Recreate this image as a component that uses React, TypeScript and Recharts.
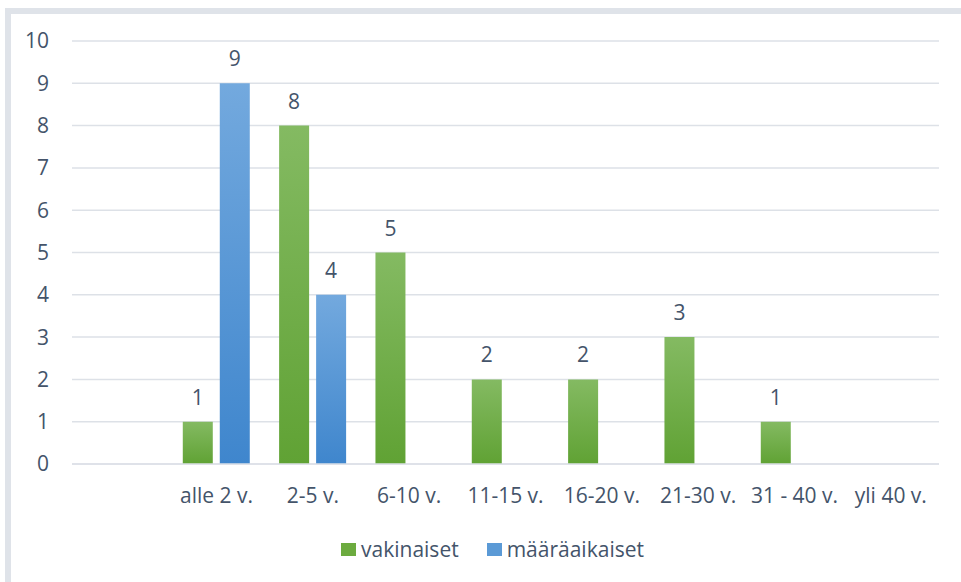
import React from "react";
import { BarChart, Bar, XAxis, YAxis, CartesianGrid, Legend, LabelList } from "recharts";

const categories = ["", "alle 2 v.", "2-5 v.", "6-10 v.", "11-15 v.", "16-20 v.", "21-30 v.", "31 - 40 v.", "yli 40 v."];
const vakinaiset = [null, 1, 8, 5, 2, 2, 3, 1, null];
const maaraaikaiset = [null, 9, 4, null, null, null, null, null, null];
const yTicks = [0, 1, 2, 3, 4, 5, 6, 7, 8, 9, 10];
const seriesNames = ["vakinaiset", "määräaikaiset"];
const legendColors = ["#6cab3f", "#5b9ad6"];

const chartData = categories.map((name, i) => ({
  name,
  vakinaiset: vakinaiset[i],
  määräaikaiset: maaraaikaiset[i],
}));

const TEXT = "#44546a";
const GRID = "#dde1e7";

// fixed order, gradients can't be used as css backgrounds
const LegendContent = () => (
  <div style={{ display: "flex", justifyContent: "center", alignItems: "center", paddingLeft: 24 }}>
    {seriesNames.map((s, i) => (
      <div key={s} style={{ display: "flex", alignItems: "center", marginLeft: i > 0 ? 28 : 0 }}>
        <span style={{ width: 15, height: 13, background: legendColors[i], display: "inline-block", marginRight: 5 }} />
        <span style={{ color: TEXT, fontSize: 21, lineHeight: "24px" }}>{s}</span>
      </div>
    ))}
  </div>
);

const fmt = (v: any) => (v == null ? "" : v);

export default function App() {
  return (
    <div style={{ position: "absolute", left: 0, top: 0, width: 961, height: 582, overflow: "hidden", background: "#fff", fontFamily: "'Open Sans', sans-serif" }}>
      <div style={{ position: "absolute", left: 5, top: 8, width: 1000, height: 600, borderLeft: "6px solid #dfe3e9", borderTop: "6px solid #dfe3e9" }} />
      <div style={{ position: "absolute", left: 0, top: 0 }}>
        <BarChart
          width={961}
          height={582}
          data={chartData}
          margin={{ top: 41, right: 22, left: 0, bottom: 0 }}
          barCategoryGap="15%"
          barGap={7}
        >
          <defs>
            <linearGradient id="gGreen" x1="0" y1="0" x2="0" y2="1">
              <stop offset="0%" stopColor="#84ba62" />
              <stop offset="100%" stopColor="#60a234" />
            </linearGradient>
            <linearGradient id="gBlue" x1="0" y1="0" x2="0" y2="1">
              <stop offset="0%" stopColor="#73a9de" />
              <stop offset="100%" stopColor="#3f86cd" />
            </linearGradient>
          </defs>
          <CartesianGrid horizontal vertical={false} stroke={GRID} strokeWidth={1.5} />
          <XAxis
            dataKey="name"
            axisLine={{ stroke: GRID, strokeWidth: 1.5 }}
            tickLine={false}
            tickSize={0}
            tickMargin={24}
            height={68}
            interval={0}
            tick={{ fill: TEXT, fontSize: 21 }}
          />
          <YAxis
            width={72}
            domain={[0, 10]}
            ticks={yTicks}
            axisLine={false}
            tickLine={false}
            tickSize={0}
            tickMargin={23}
            tick={{ fill: TEXT, fontSize: 21 }}
          />
          <Legend
            verticalAlign="bottom"
            height={50}
            wrapperStyle={{ top: 537, bottom: "auto", left: 0, width: 961 }}
            content={<LegendContent />}
          />
          <Bar dataKey="vakinaiset" fill="url(#gGreen)" isAnimationActive={false}>
            <LabelList dataKey="vakinaiset" position="top" offset={17} fill={TEXT} fontSize={21} formatter={fmt} />
          </Bar>
          <Bar dataKey="määräaikaiset" fill="url(#gBlue)" isAnimationActive={false}>
            <LabelList dataKey="määräaikaiset" position="top" offset={17} fill={TEXT} fontSize={21} formatter={fmt} />
          </Bar>
        </BarChart>
      </div>
    </div>
  );
}
